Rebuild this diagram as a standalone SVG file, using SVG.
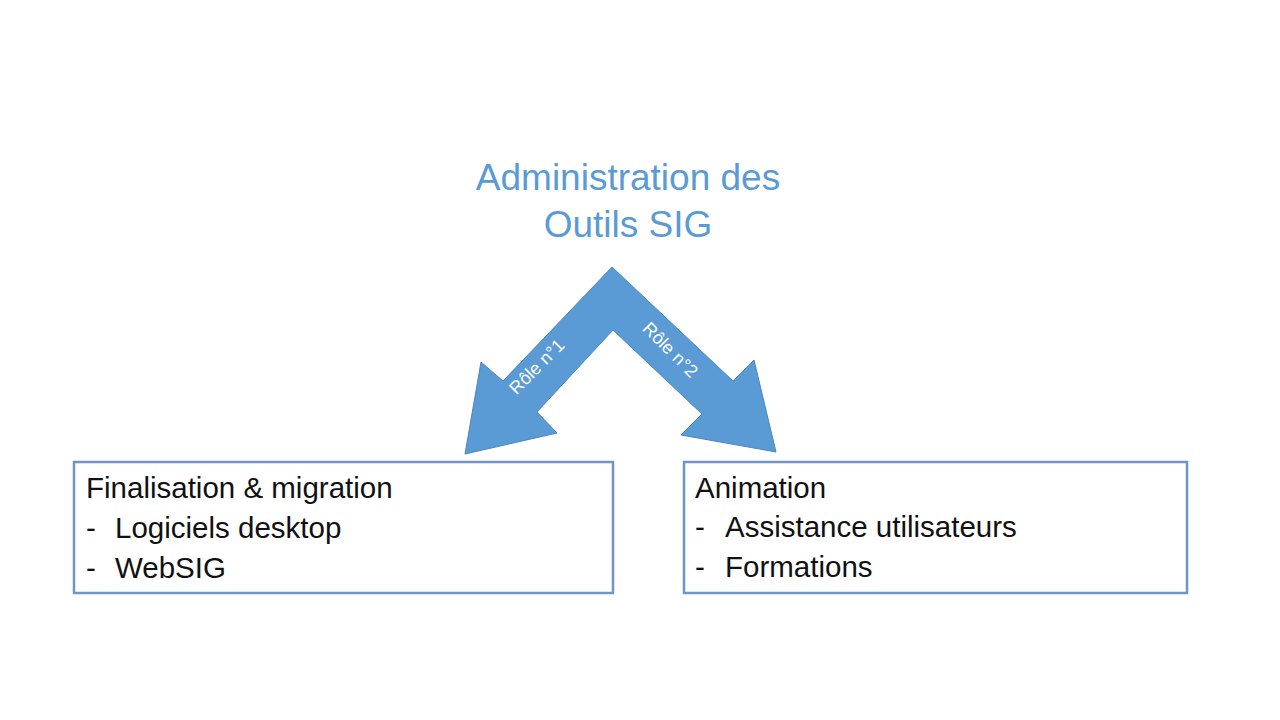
<svg xmlns="http://www.w3.org/2000/svg" width="1280" height="720" viewBox="0 0 1280 720">
<style>
.title{font-family:"Liberation Sans",Arial,sans-serif;font-size:37px;fill:#5B9BD5;text-anchor:middle}
.box{fill:#ffffff;stroke:#6F95C4;stroke-width:2.5}
.t{font-family:"Liberation Sans",Arial,sans-serif;font-size:29.5px;fill:#111111}
.role{font-family:"Liberation Sans",Arial,sans-serif;font-size:18px;fill:#ffffff;text-anchor:middle}
</style>
<rect width="1280" height="720" fill="#ffffff"/>
<g id="title">
<text class="title" x="628" y="190">Administration des</text>
<text class="title" x="628" y="237">Outils SIG</text>
</g>
<g id="connectors">
<polygon points="612,267 733,381 754,360 776,452 681,435 702,414 613,330 537,412 557,433 465,454 481,362 503,381" fill="#5B9BD5" stroke="#4A86C0" stroke-width="1"/>
<text class="role" transform="translate(541,371) rotate(-45)">Rôle n°1</text>
<text class="role" transform="translate(666,354) rotate(45)">Rôle n°2</text>
</g>
<g id="node-left">
<rect class="box" x="74" y="462" width="539" height="131"/>
<text class="t" x="86" y="498">Finalisation &amp; migration</text>
<text class="t" x="86" y="538">-</text>
<text class="t" x="115" y="538">Logiciels desktop</text>
<text class="t" x="86" y="578">-</text>
<text class="t" x="115" y="578">WebSIG</text>
</g>
<g id="node-right">
<rect class="box" x="684" y="462" width="503" height="131"/>
<text class="t" x="695" y="498">Animation</text>
<text class="t" x="695" y="537">-</text>
<text class="t" x="725" y="537">Assistance utilisateurs</text>
<text class="t" x="695" y="577">-</text>
<text class="t" x="725" y="577">Formations</text>
</g>
</svg>
